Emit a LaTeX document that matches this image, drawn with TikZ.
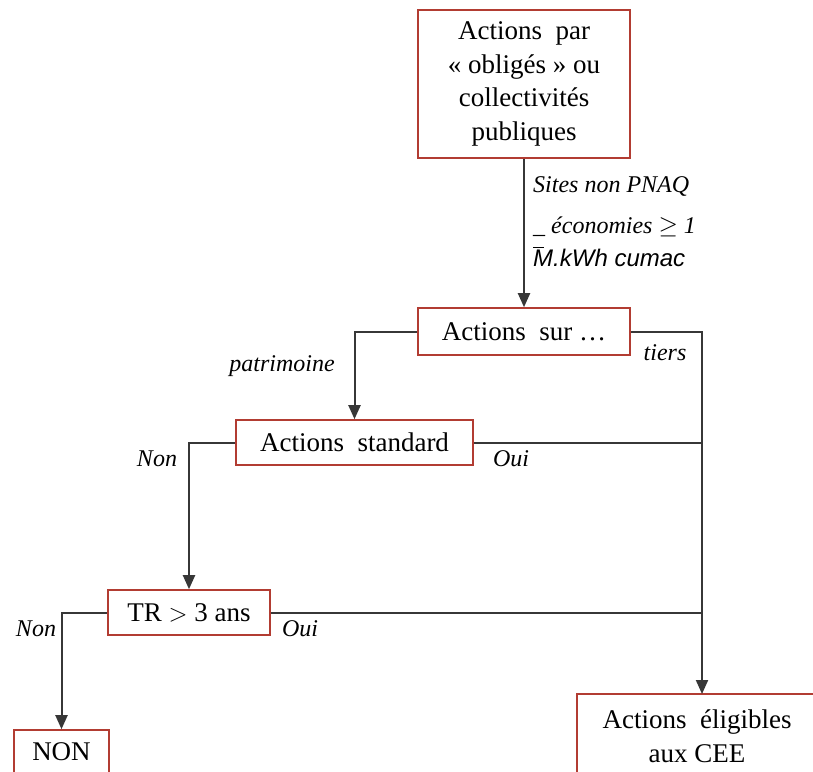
\documentclass[tikz,border=0pt]{standalone}
\usepackage{fontspec}
\setmainfont{Liberation Serif}
\setsansfont{Liberation Sans}
\usetikzlibrary{arrows.meta}

\definecolor{boxred}{RGB}{178,60,50}
\definecolor{wire}{RGB}{55,55,55}

\begin{document}
\begin{tikzpicture}[x=1pt,y=-1pt,
        box/.style={draw=boxred,line width=1.6pt,align=center,inner sep=0pt,
          font=\fontsize{27}{33.5}\selectfont},
        lbl/.style={font=\fontsize{24}{28}\selectfont\itshape,inner sep=0pt},
        wire/.style={draw=wire,line width=2pt},
        arr/.style={wire,-{Triangle[length=14pt,width=12pt]}}]
        \useasboundingbox (0,0) rectangle (813,771);
        \clip (0,0) rectangle (813,771);

        % boxes
        \node[box,minimum width=212,minimum height=148] (top) at (524,84)
          {Actions~ par\\« obligés »~ou\\collectivités\\publiques};
        \node[box,minimum width=212,minimum height=47] (sur) at (524,331.5) {Actions~ sur~…};
        \node[box,minimum width=237,minimum height=45] (std) at (354.5,442.5) {Actions~ standard};
        \node[box,minimum width=162,minimum height=45] (tr) at (189,612.5) {TR $>$ 3 ans};
        \node[box,minimum width=95,minimum height=44] (non) at (61.5,752) {NON};
        \node[box,minimum width=240,minimum height=84] (elig) at (697,736)
          {Actions~ éligibles\\aux CEE};

        \coordinate (eligin) at (702,694);

        % connectors
        \draw[arr] (top.south) -- (sur.north);
        \draw[arr] (sur.west) -| (std.north);
        \draw[arr] (sur.east) -| (eligin);
        \draw[wire] (std.east) -- (std.east -| eligin);
        \draw[arr] (std.west) -| (tr.north);
        \draw[wire] (tr.east) -- (tr.east -| eligin);
        \draw[arr] (tr.west) -| (non.north);

        % labels
        \node[lbl,anchor=west] (sites) at (533,186) {Sites non PNAQ};
        \node[lbl,anchor=west] (eco) at (533,227) {\_ économies $\geq$ 1};
        \node[lbl,anchor=west,font=\fontsize{24}{28}\selectfont\sffamily\itshape] (mwh) at (533,257)
          {\rlap{\raisebox{19pt}{\rule{11pt}{1pt}}}M.kWh cumac};
        \node[lbl] (patr) at (282,366) {patrimoine};
        \node[lbl] (tiers) at (665,353) {tiers};
        \node[lbl] (stdnon) at (157,459) {Non};
        \node[lbl] (stdoui) at (511,459) {Oui};
        \node[lbl] (trnon) at (36,629) {Non};
        \node[lbl] (troui) at (300,629) {Oui};
      \end{tikzpicture}
\end{document}
